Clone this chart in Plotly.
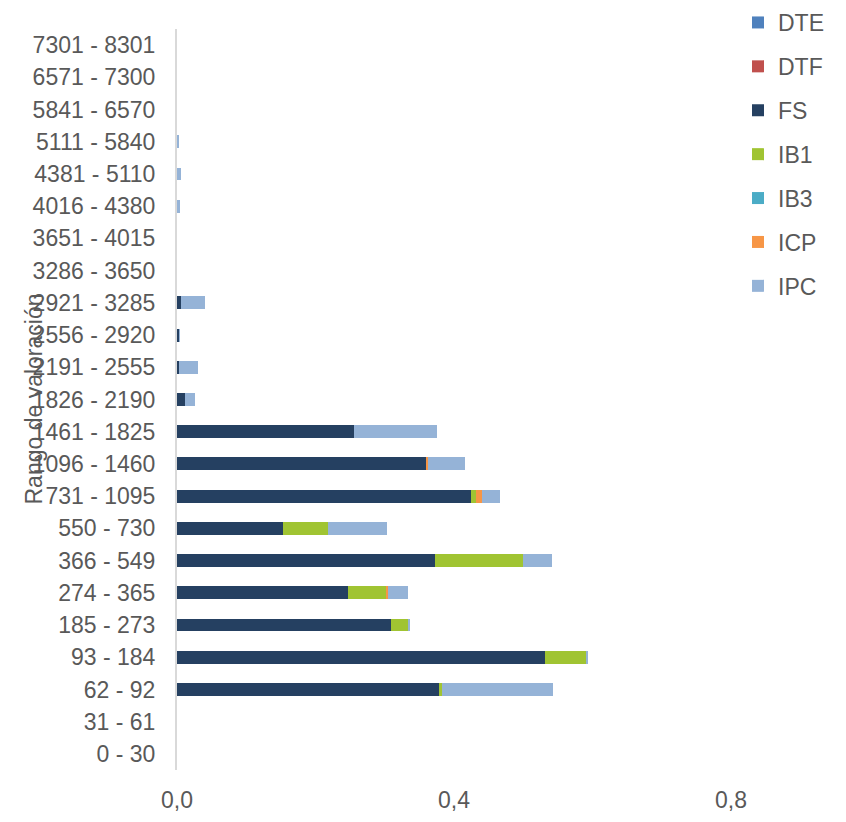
import plotly.graph_objects as go

categories = ["0 - 30", "31 - 61", "62 - 92", "93 - 184", "185 - 273", "274 - 365",
              "366 - 549", "550 - 730", "731 - 1095", "1096 - 1460", "1461 - 1825",
              "1826 - 2190", "2191 - 2555", "2556 - 2920", "2921 - 3285", "3286 - 3650",
              "3651 - 4015", "4016 - 4380", "4381 - 5110", "5111 - 5840", "5841 - 6570",
              "6571 - 7300", "7301 - 8301"]

DTE = [0] * 23
DTF = [0] * 23
FS = [0, 0, 0.378, 0.531, 0.309, 0.247, 0.373, 0.153, 0.425, 0.359, 0.256, 0.0115,
      0.003, 0.003, 0.006, 0, 0, 0, 0, 0, 0, 0, 0]
IB1 = [0, 0, 0.004, 0.059, 0.025, 0.056, 0.127, 0.065, 0.007, 0, 0, 0,
       0, 0, 0, 0, 0, 0, 0, 0, 0, 0, 0]
IB3 = [0] * 23
ICP = [0, 0, 0, 0, 0, 0.002, 0, 0, 0.008, 0.003, 0, 0,
       0, 0, 0, 0, 0, 0, 0, 0, 0, 0, 0]
IPC = [0, 0, 0.161, 0.004, 0.002, 0.028, 0.041, 0.085, 0.026, 0.054, 0.119, 0.0145,
       0.028, 0.001, 0.035, 0, 0, 0.005, 0.006, 0.003, 0, 0, 0]

series = [("DTE", DTE, "#4F81BD"), ("DTF", DTF, "#C0504D"), ("FS", FS, "#254061"),
          ("IB1", IB1, "#A0C432"), ("IB3", IB3, "#4BACC6"), ("ICP", ICP, "#F79646"),
          ("IPC", IPC, "#95B3D7")]

FONT = "Liberation Sans, Arial, sans-serif"
TXT = "#595959"

# page has an 8px body margin: figure is offset by (8, 8)
W, H = 838, 814
L, T, B, R = 169, 21, 52, 0
PW, PH = W - L - R, H - T - B

fig = go.Figure()
for name, vals, col in series:
    fig.add_trace(go.Bar(y=categories, x=vals, name=name, orientation="h",
                         marker=dict(color=col, line=dict(width=0)),
                         legendgroup=name))

fig.update_layout(
    width=W, height=H,
    barmode="stack", bargap=0.6,
    plot_bgcolor="white", paper_bgcolor="white",
    margin=dict(l=L, r=R, t=T, b=B, pad=0, autoexpand=False),
    separators=",.",
    font=dict(family=FONT, size=23, color=TXT),
    legend=dict(x=(730 - L) / PW, xanchor="left",
                y=1 + (T + 7) / PH, yanchor="top",
                traceorder="grouped", tracegroupgap=11, bgcolor="rgba(0,0,0,0)",
                font=dict(size=23, color=TXT, family=FONT)),
    xaxis=dict(range=[0, 0.966], tickvals=[0, 0.4, 0.8], tickformat=".1f",
               showgrid=False, zeroline=False, showline=False, automargin=False,
               ticks="", ticklabelstandoff=14,
               tickfont=dict(size=23, color=TXT, family=FONT)),
    yaxis=dict(categoryorder="array", categoryarray=categories, automargin=False,
               showline=True, linecolor="#D9D9D9", linewidth=2,
               showgrid=False, zeroline=False, ticks="", ticklabelstandoff=15,
               tickfont=dict(size=23, color=TXT, family=FONT)),
    annotations=[dict(text="Rango de valoración", textangle=-90, xref="paper", yref="paper",
                      x=(25 - L) / PW, y=0.5, xanchor="center", yanchor="middle",
                      showarrow=False, font=dict(size=23, color=TXT, family=FONT))],
)

fig.write_html("out.html")
